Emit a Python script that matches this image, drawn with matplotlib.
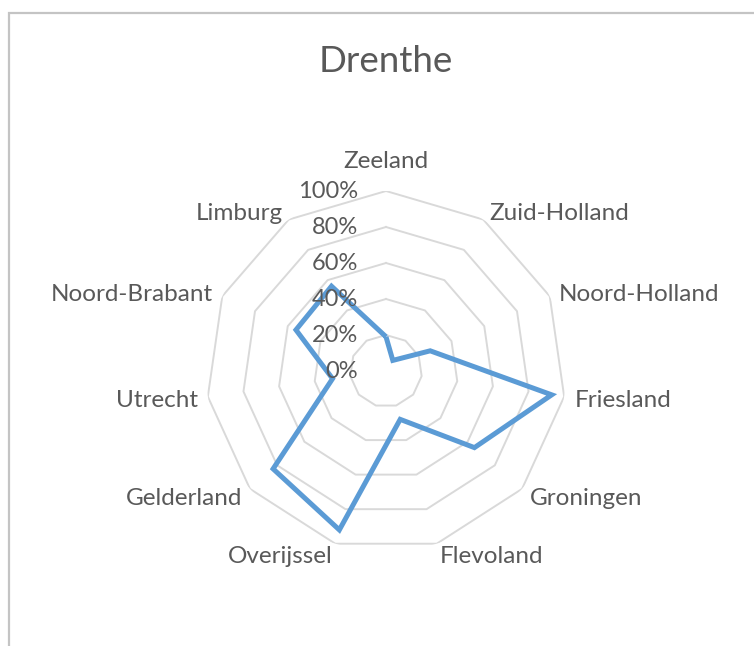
import numpy as np
import matplotlib
matplotlib.use("Agg")
import matplotlib.pyplot as plt
from matplotlib.patches import Rectangle

title = "Drenthe"
categories = ["Zeeland", "Zuid-Holland", "Noord-Holland", "Friesland", "Groningen",
              "Flevoland", "Overijssel", "Gelderland", "Utrecht", "Noord-Brabant", "Limburg"]
values = [0.19, 0.07, 0.27, 0.93, 0.65, 0.28, 0.92, 0.83, 0.30, 0.55, 0.56]
ring_levels = [0.2, 0.4, 0.6, 0.8, 1.0]
tick_levels = [0.0, 0.2, 0.4, 0.6, 0.8, 1.0]
tick_labels = ["0%", "20%", "40%", "60%", "80%", "100%"]

W, H, DPI = 754, 646, 100
fig = plt.figure(figsize=(W / DPI, H / DPI), dpi=DPI)
fig.patch.set_facecolor("white")

FONT = ["Lato", "DejaVu Sans"]
TXT = "#595959"

# outer chart border (cut at right and bottom)
fig.add_artist(Rectangle((8.5 / W, -0.05), 1.2, (H - 13) / H + 0.05,
                         transform=fig.transFigure, fill=False,
                         edgecolor="#c4c4c4", linewidth=1.6))

cx, cy, R = 386, 371, 180
ax = fig.add_axes([(cx - R) / W, (H - cy - R) / H, 2 * R / W, 2 * R / H],
                  projection="polar")
ax.set_theta_zero_location("N")
ax.set_theta_direction(-1)
ax.set_ylim(0, 1)
ax.grid(False)
ax.spines["polar"].set_visible(False)
ax.set_xticks([])
ax.set_yticks([])
ax.patch.set_alpha(0)

n = len(categories)
angles = np.arange(n) * 2 * np.pi / n
closed = np.append(angles, angles[0])

for lvl in ring_levels:
    ax.plot(closed, [lvl] * (n + 1), color="#d9d9d9", linewidth=1.4, zorder=1)

vals = np.append(values, values[0])
ax.plot(closed, vals, color="#5b9bd5", linewidth=3.6, zorder=3,
        solid_joinstyle="miter", solid_capstyle="butt")

# radial tick labels (left of the vertical axis)
for lvl, lab in zip(tick_levels, tick_labels):
    ax.annotate(lab, xy=(0, lvl), xytext=(-20, 0), textcoords="offset points",
                ha="right", va="center", fontsize=17, color=TXT,
                family=FONT, zorder=4)

# category labels
for ang, lab in zip(angles, categories):
    s, c = np.sin(ang), np.cos(ang)
    if abs(s) < 0.1:
        ha, va = "center", "center"
        off = (0, 21)
    else:
        ha = "left" if s > 0 else "right"
        va = "center"
        off = (7.5 * s, 7.5 * c - 2)
    ax.annotate(lab, xy=(ang, 1.0), xytext=off, textcoords="offset points",
                ha=ha, va=va, fontsize=17.5, color=TXT, family=FONT)

fig.text(cx / W, 1 - 62 / H, title, ha="center", va="center",
         fontsize=26.5, color=TXT, family=FONT)

fig.savefig("out.png", dpi=DPI, facecolor="white")
